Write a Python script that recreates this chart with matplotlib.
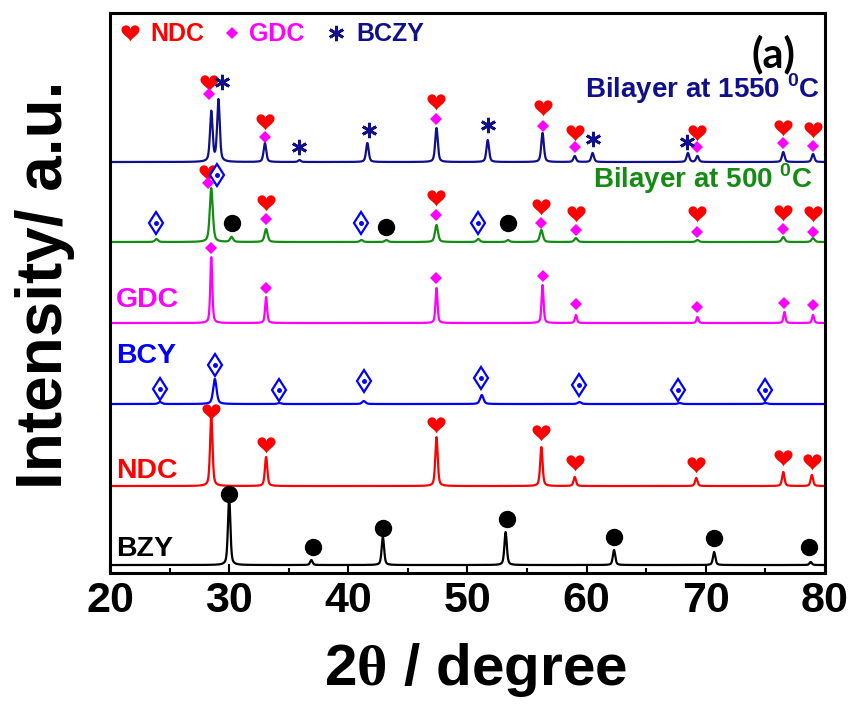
import numpy as np
import matplotlib
matplotlib.use("Agg")
import matplotlib.pyplot as plt
from matplotlib.path import Path
from matplotlib.ticker import MultipleLocator

plt.rcParams['font.family'] = ['Liberation Sans', 'DejaVu Sans']
plt.rcParams['font.weight'] = 'bold'
plt.rcParams['mathtext.fontset'] = 'custom'
plt.rcParams['mathtext.rm'] = 'Liberation Serif'
plt.rcParams['mathtext.bf'] = 'Liberation Sans:bold'

# peak positions (2theta, deg) and heights (a.u.)
bzy_pos = [30.0, 36.9, 42.9, 53.2, 62.3, 70.7, 78.8]
bzy_h = [68, 5, 28, 33, 15, 13, 3]
ndc_pos = [28.5, 33.1, 47.4, 56.2, 59.0, 69.2, 76.5, 78.9]
ndc_h = [71, 29, 49, 39, 9, 8, 14, 11]
bcy_pos = [24.2, 28.8, 34.2, 41.3, 51.2, 59.4, 67.8, 75.0]
bcy_h = [2, 25, 1, 3, 9, 2, 1, 1]
gdc_pos = [28.5, 33.1, 47.4, 56.3, 59.1, 69.3, 76.6, 79.0]
gdc_h = [66, 26, 35, 38, 8, 6, 11, 8]
b500_pos = [23.9, 28.5, 30.2, 33.1, 41.1, 43.2, 47.4, 50.9, 53.4, 56.2, 59.1, 69.3, 76.5, 79.0]
b500_h = [3, 54, 5, 13, 2, 2, 17, 3, 2, 12, 4, 2, 5, 4]
b1550_pos = [28.5, 29.1, 33.0, 35.9, 41.6, 47.4, 51.7, 56.3, 59.0, 60.5, 68.5, 69.3, 76.5, 79.0]
b1550_h = [50, 62, 19, 2, 19, 34, 22, 29, 6, 9, 9, 6, 10, 8]

# vertical offsets of the stacked patterns: BZY, NDC, BCY, GDC, 500C, 1550C
offsets = [8, 87, 169, 250, 331, 411]

# phase markers: 2theta and height above the pattern's baseline
m1550_ndc_x = [28.3, 33.0, 47.4, 56.3, 59.0, 69.3, 76.5, 79.0]
m1550_ndc_y = [79, 40, 60, 54, 29, 29, 34, 32]
m1550_gdc_y = [68, 25, 43, 36, 15, 15, 19, 16]
m1550_bczy_x = [29.4, 35.9, 41.7, 51.7, 60.5, 68.4]
m1550_bczy_y = [80, 15, 32, 37, 23, 20]
m500_ndc_x = [28.2, 33.1, 47.4, 56.2, 59.1, 69.3, 76.5, 79.0]
m500_ndc_y = [69, 39, 44, 35, 28, 28, 29, 28]
m500_gdc_y = [59, 23, 27, 19, 12, 10, 13, 10]
m500_bcy_x = [23.9, 29.0, 41.1, 50.9]
m500_bcy_y = [19, 67, 19, 19]
m500_bzy_x = [30.2, 43.2, 53.4]
m500_bzy_y = [19, 15, 19]
mgdc_y = [75, 35, 45, 47, 19, 16, 20, 18]
mbcy_x = [24.2, 28.8, 34.2, 41.3, 51.1, 59.4, 67.7, 75.0]
mbcy_y = [15, 39, 14, 23, 26, 19, 14, 14]
mndc_y = [74, 41, 61, 53, 23, 21, 28, 24]
mbzy_x = [30.0, 37.0, 42.9, 53.3, 62.3, 70.7, 78.7]
mbzy_y = [71, 18, 37, 46, 28, 27, 18]

navy = '#10108a'
green = '#148c14'
magenta = '#ff00ff'
blue = '#0000ff'
red = '#ff0000'

# heart shaped marker
t = np.linspace(0, 2 * np.pi, 120)
hx = 16 * np.sin(t) ** 3
hy = 13 * np.cos(t) - 5 * np.cos(2 * t) - 2 * np.cos(3 * t) - np.cos(4 * t)
hy = hy - (hy.max() + hy.min()) / 2
heart = Path(np.column_stack([hx, hy]))

x = np.linspace(20, 80, 4001)


def pattern(pos, h, w):
    y = np.zeros_like(x)
    for p, hi in zip(pos, h):
        lor = w ** 2 / ((x - p) ** 2 + w ** 2)
        gau = np.exp(-np.log(2) * ((x - p) / w) ** 2)
        y += hi * (0.5 * lor + 0.5 * gau)
    return y


def mark(xs, ys, base, kind):
    ys = np.asarray(ys) + base
    if kind == 'ndc':
        ax.plot(xs, ys, ls='none', marker=heart, ms=13, color=red, mew=0, zorder=5)
    elif kind == 'gdc':
        ax.plot(xs, ys, ls='none', marker='D', ms=6.5, color=magenta, mew=0, zorder=5)
    elif kind == 'bczy':
        ax.plot(xs, ys, ls='none', marker=(6, 2, 0), ms=11, color=navy, mew=2, zorder=5)
    elif kind == 'bcy':
        ax.plot(xs, ys, ls='none', marker='d', ms=11.5, mfc='white', mec=blue, mew=1.6, zorder=5)
        ax.plot(xs, ys, ls='none', marker='o', ms=2.5, color=blue, zorder=6)
    elif kind == 'bzy':
        ax.plot(xs, ys, ls='none', marker='o', ms=11.5, color='black', zorder=5)


fig = plt.figure(figsize=(8.54, 7.07), dpi=100)
ax = fig.add_axes([0.1288, 0.1895, 0.8372, 0.7921])

ax.plot(x, offsets[0] + pattern(bzy_pos, bzy_h, 0.12), color='black', lw=1.6)
ax.plot(x, offsets[1] + pattern(ndc_pos, ndc_h, 0.12), color=red, lw=1.6)
ax.plot(x, offsets[2] + pattern(bcy_pos, bcy_h, 0.17), color=blue, lw=1.6)
ax.plot(x, offsets[3] + pattern(gdc_pos, gdc_h, 0.1), color=magenta, lw=1.6)
ax.plot(x, offsets[4] + pattern(b500_pos, b500_h, 0.15), color=green, lw=1.6)
ax.plot(x, offsets[5] + pattern(b1550_pos, b1550_h, 0.13), color=navy, lw=1.6)

mark(mbzy_x, mbzy_y, offsets[0], 'bzy')
mark(ndc_pos, mndc_y, offsets[1], 'ndc')
mark(mbcy_x, mbcy_y, offsets[2], 'bcy')
mark(gdc_pos, mgdc_y, offsets[3], 'gdc')
mark(m500_ndc_x, m500_ndc_y, offsets[4], 'ndc')
mark(m500_ndc_x, m500_gdc_y, offsets[4], 'gdc')
mark(m500_bcy_x, m500_bcy_y, offsets[4], 'bcy')
mark(m500_bzy_x, m500_bzy_y, offsets[4], 'bzy')
mark(m1550_ndc_x, m1550_ndc_y, offsets[5], 'ndc')
mark(m1550_ndc_x, m1550_gdc_y, offsets[5], 'gdc')
mark(m1550_bczy_x, m1550_bczy_y, offsets[5], 'bczy')

# pattern labels
ax.text(20.5, 17, 'BZY', color='black', fontsize=20.5, fontweight='bold')
ax.text(20.5, 95, 'NDC', color=red, fontsize=20.5, fontweight='bold')
ax.text(20.5, 210, 'BCY', color=blue, fontsize=20.5, fontweight='bold')
ax.text(20.5, 266, 'GDC', color=magenta, fontsize=20.5, fontweight='bold')
ax.text(79.0, 385, r'Bilayer at 500 $^{\mathbf{0}}$C', color=green, fontsize=20,
        fontweight='bold', ha='right', va='baseline')
ax.text(79.6, 475, r'Bilayer at 1550 $^{\mathbf{0}}$C', color=navy, fontsize=20,
        fontweight='bold', ha='right', va='baseline')
ax.text(77.5, 506, '(a)', color='black', fontsize=30, fontweight='bold',
        family=['Lato', 'DejaVu Sans'], ha='right', va='baseline')

# legend row
ax.plot([21.7], [540], ls='none', marker=heart, ms=13, color=red, mew=0)
ax.text(23.4, 532, 'NDC', color=red, fontsize=18, fontweight='bold')
ax.plot([30.2], [540], ls='none', marker='D', ms=6.5, color=magenta, mew=0)
ax.text(31.7, 532, 'GDC', color=magenta, fontsize=18, fontweight='bold')
ax.plot([39.0], [540], ls='none', marker=(6, 2, 0), ms=11, color=navy, mew=2)
ax.text(40.7, 532, 'BCZY', color=navy, fontsize=18, fontweight='bold')

ax.set_xlim(20, 80)
ax.set_ylim(0, 560)
ax.set_yticks([])
ax.xaxis.set_major_locator(MultipleLocator(10))
ax.xaxis.set_minor_locator(MultipleLocator(5))
ax.tick_params(axis='x', which='major', direction='in', length=6.5, width=1.5,
               labelsize=31, pad=6)
ax.tick_params(axis='x', which='minor', direction='in', length=3.5, width=1.5)
for lab in ax.get_xticklabels():
    lab.set_fontweight('bold')
for sp in ax.spines.values():
    sp.set_linewidth(2.2)

fig.text(0.0527, 0.597, 'Intensity/ a.u.', rotation=90, ha='center', va='center',
         fontsize=46, fontweight='bold')
fig.text(476 / 854, 1 - 685 / 707, r'2$\mathrm{\theta}$ / degree', ha='center',
         va='baseline', fontsize=42, fontweight='bold')

fig.savefig('out.png', dpi=100)
